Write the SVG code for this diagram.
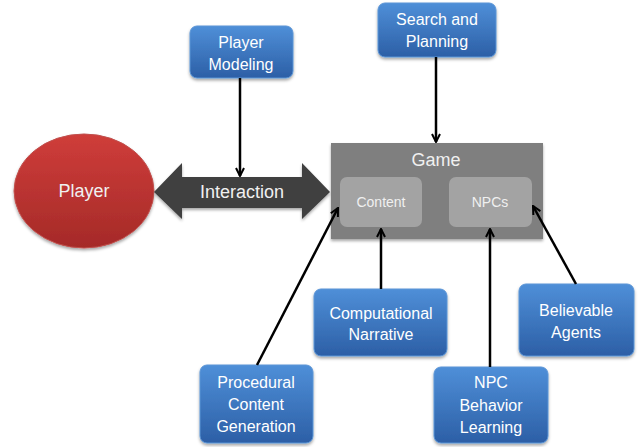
<svg xmlns="http://www.w3.org/2000/svg" width="639" height="447" viewBox="0 0 639 447">
<defs>
<linearGradient id="blue" x1="0" y1="0" x2="0" y2="1">
<stop offset="0" stop-color="#4f8fd8"/>
<stop offset="1" stop-color="#2c5fa6"/>
</linearGradient>
<linearGradient id="red" x1="0" y1="0" x2="0" y2="1">
<stop offset="0" stop-color="#cf3d3a"/>
<stop offset="1" stop-color="#a52a28"/>
</linearGradient>
<filter id="sh" x="-20%" y="-20%" width="140%" height="150%">
<feDropShadow dx="0" dy="2" stdDeviation="1.5" flood-color="#000" flood-opacity="0.35"/>
</filter>
<marker id="ah" viewBox="0 0 10 10" refX="9" refY="5" markerWidth="10" markerHeight="10" markerUnits="userSpaceOnUse" orient="auto">
<path d="M1,1 L9,5 L1,9" fill="none" stroke="#000" stroke-width="2"/>
</marker>
</defs>
<style>
.bx{fill:url(#blue);stroke:#5b95d6;stroke-width:1;filter:url(#sh)}
.bt{font-family:"Liberation Sans",Arial,sans-serif;font-size:16px;fill:#fff;text-anchor:middle}
.st{font-family:"Liberation Sans",Arial,sans-serif;fill:#f0f0f0;text-anchor:middle}
.cn{stroke:#000;stroke-width:2.5;fill:none;marker-end:url(#ah)}
</style>
<g id="player">
<ellipse cx="84" cy="191" rx="70" ry="57" fill="url(#red)" stroke="#c0504d" filter="url(#sh)"/>
<text class="st" x="84" y="197" font-size="18">Player</text>
</g>
<g id="interaction">
<path d="M154,192 L182,163 L182,177 L302,177 L302,163 L330,192 L302,219 L302,208 L182,208 L182,219 Z" fill="#3f3f3f" filter="url(#sh)"/>
<text class="st" x="242" y="198" font-size="18">Interaction</text>
</g>
<g id="game">
<rect x="331" y="143" width="212" height="96" fill="#7f7f7f" filter="url(#sh)"/>
<text class="st" x="436" y="166" font-size="18">Game</text>
</g>
<g id="content">
<rect x="340" y="177" width="82" height="50" rx="7" fill="#a3a3a3"/>
<text class="st" x="381" y="207" font-size="14">Content</text>
</g>
<g id="npcs">
<rect x="449" y="177" width="83" height="50" rx="7" fill="#a3a3a3"/>
<text class="st" x="490" y="207" font-size="14">NPCs</text>
</g>
<g id="player-modeling">
<rect class="bx" x="190" y="26" width="103" height="52" rx="7"/>
<text class="bt" x="241" y="48">Player</text>
<text class="bt" x="241" y="70">Modeling</text>
</g>
<g id="search-planning">
<rect class="bx" x="378" y="3" width="118" height="54" rx="7"/>
<text class="bt" x="437" y="25">Search and</text>
<text class="bt" x="437" y="47">Planning</text>
</g>
<g id="computational-narrative">
<rect class="bx" x="314" y="289" width="133" height="67" rx="7"/>
<text class="bt" x="381" y="319">Computational</text>
<text class="bt" x="381" y="340">Narrative</text>
</g>
<g id="procedural-content-generation">
<rect class="bx" x="200" y="365" width="113" height="78" rx="7"/>
<text class="bt" x="256" y="388">Procedural</text>
<text class="bt" x="256" y="410">Content</text>
<text class="bt" x="256" y="432">Generation</text>
</g>
<g id="npc-behavior-learning">
<rect class="bx" x="434" y="367" width="114" height="76" rx="7"/>
<text class="bt" x="491" y="388">NPC</text>
<text class="bt" x="491" y="411">Behavior</text>
<text class="bt" x="491" y="433">Learning</text>
</g>
<g id="believable-agents">
<rect class="bx" x="519" y="284" width="115" height="72" rx="7"/>
<text class="bt" x="576" y="316">Believable</text>
<text class="bt" x="576" y="338">Agents</text>
</g>
<g id="connectors">
<line class="cn" x1="240" y1="78" x2="240" y2="176"/>
<line class="cn" x1="436" y1="57" x2="436" y2="142"/>
<line class="cn" x1="381" y1="289" x2="381" y2="229"/>
<line class="cn" x1="257" y1="365" x2="338" y2="208"/>
<line class="cn" x1="490" y1="367" x2="490" y2="229"/>
<line class="cn" x1="576" y1="284" x2="533" y2="206"/>
</g>
</svg>
